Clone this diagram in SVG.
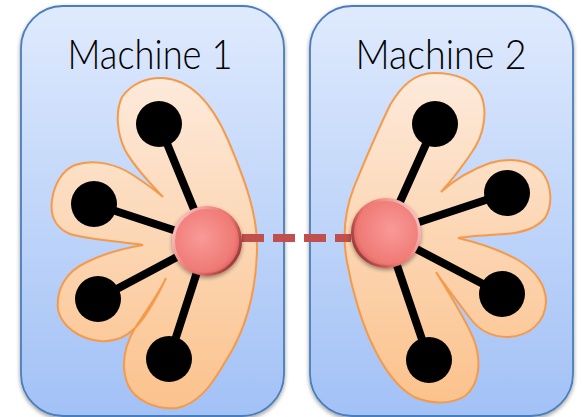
<svg xmlns="http://www.w3.org/2000/svg" width="582" height="417" viewBox="0 0 582 417">
<defs>
<linearGradient id="boxG" x1="0" y1="0" x2="0" y2="1">
<stop offset="0" stop-color="#dfeafd"/>
<stop offset="1" stop-color="#a2c1f6"/>
</linearGradient>
<linearGradient id="blobG" x1="0" y1="0" x2="0" y2="1">
<stop offset="0" stop-color="#fdeadb"/>
<stop offset="1" stop-color="#fbc28c"/>
</linearGradient>
<radialGradient id="hub1G" cx="0.42" cy="0.45" r="0.6">
<stop offset="0" stop-color="#f99a97"/>
<stop offset="0.8" stop-color="#ef7a75"/>
<stop offset="1" stop-color="#d35a56"/>
</radialGradient>
<radialGradient id="hub2G" cx="0.58" cy="0.45" r="0.6">
<stop offset="0" stop-color="#f99a97"/>
<stop offset="0.8" stop-color="#ef7a75"/>
<stop offset="1" stop-color="#d35a56"/>
</radialGradient>
<linearGradient id="rim1" x1="0" y1="0.2" x2="1" y2="0.8">
<stop offset="0" stop-color="#ffffff" stop-opacity="0.55"/>
<stop offset="0.45" stop-color="#ffffff" stop-opacity="0"/>
<stop offset="0.6" stop-color="#8a2e2e" stop-opacity="0"/>
<stop offset="1" stop-color="#7a2626" stop-opacity="0.75"/>
</linearGradient>
<linearGradient id="rim2" x1="1" y1="0.2" x2="0" y2="0.8">
<stop offset="0" stop-color="#ffffff" stop-opacity="0.55"/>
<stop offset="0.45" stop-color="#ffffff" stop-opacity="0"/>
<stop offset="0.6" stop-color="#8a2e2e" stop-opacity="0"/>
<stop offset="1" stop-color="#7a2626" stop-opacity="0.75"/>
</linearGradient>
<filter id="sh" x="-20%" y="-20%" width="140%" height="140%">
<feGaussianBlur in="SourceAlpha" stdDeviation="2"/>
<feOffset dx="0" dy="2" result="b"/>
<feComponentTransfer><feFuncA type="linear" slope="0.4"/></feComponentTransfer>
<feMerge><feMergeNode/><feMergeNode in="SourceGraphic"/></feMerge>
</filter>
</defs>
<style>
.box{fill:url(#boxG);stroke:#4a7ebb;stroke-width:1.8}
.blob{fill:url(#blobG);stroke:#f59a4a;stroke-width:2}
.spoke{stroke:#000;stroke-width:8;stroke-linecap:round}
.leaf{fill:#000}
.label{font-family:Lato,"Liberation Sans",sans-serif;font-size:41px;font-weight:300;fill:#000}
.link{stroke:#c0504d;stroke-width:8;stroke-dasharray:22 9;fill:none}
</style>

<g id="machine1">
<rect class="box" x="21" y="6" width="263" height="410" rx="42" ry="42" filter="url(#sh)"/>
<text class="label" x="150" y="69" text-anchor="middle" textLength="165" lengthAdjust="spacingAndGlyphs">Machine 1</text>
<path class="blob" d="M163,78 C195,80 215,110 228,140 C245,180 258,215 257,250 C256,290 246,330 225,362 C212,385 198,404 177,408 C155,410 135,400 128,385 C120,365 125,345 135,328 C148,308 160,292 166,278 C158,295 148,315 135,328 C125,338 112,342 100,341 C80,339 62,327 58,310 C56,290 65,272 87,262 C105,253 125,248 143,245 C125,242 90,240 70,234 C55,228 50,215 52,200 C54,185 62,170 75,165 C95,158 118,165 133,175 C145,183 155,190 163,197 C150,183 135,168 125,150 C117,133 115,112 122,97 C132,83 148,77 163,78 Z"/>
<line class="spoke" x1="207" y1="241" x2="159" y2="124"/>
<line class="spoke" x1="207" y1="241" x2="94" y2="204"/>
<line class="spoke" x1="207" y1="241" x2="98" y2="299"/>
<line class="spoke" x1="207" y1="241" x2="169" y2="359"/>
<circle class="leaf" cx="159" cy="124" r="23"/>
<circle class="leaf" cx="94" cy="204" r="23"/>
<circle class="leaf" cx="98" cy="299" r="23"/>
<circle class="leaf" cx="169" cy="359" r="23"/>
</g>

<g id="machine2">
<rect class="box" x="310" y="6" width="263" height="410" rx="42" ry="42" filter="url(#sh)"/>
<text class="label" x="441" y="69" text-anchor="middle" textLength="171" lengthAdjust="spacingAndGlyphs">Machine 2</text>
<path class="blob" d="M434,73 C455,73 472,78 481,95 C488,112 484,135 472,152 C462,167 450,182 441,192 C452,182 470,170 490,163 C510,157 530,160 542,172 C552,185 553,205 545,218 C535,230 520,233 505,234 C490,235 470,236 458,238 C475,242 500,250 518,260 C535,270 546,285 546,302 C545,322 530,336 508,337 C490,337 478,329 470,318 C460,305 445,285 436,272 C450,295 465,318 474,340 C482,362 479,385 465,396 C450,405 430,404 414,397 C398,388 385,370 375,350 C362,325 352,290 347,262 C342,235 345,210 354,187 C365,160 378,130 390,105 C402,85 415,73 434,73 Z"/>
<line class="spoke" x1="386" y1="233" x2="435" y2="124"/>
<line class="spoke" x1="386" y1="233" x2="507" y2="193"/>
<line class="spoke" x1="386" y1="233" x2="502" y2="294"/>
<line class="spoke" x1="386" y1="233" x2="429" y2="360"/>
<circle class="leaf" cx="435" cy="124" r="23"/>
<circle class="leaf" cx="507" cy="193" r="23"/>
<circle class="leaf" cx="502" cy="294" r="23"/>
<circle class="leaf" cx="429" cy="360" r="23"/>
</g>

<g id="connectors">
<line class="link" x1="242" y1="238" x2="351" y2="238"/>
</g>

<g id="hub1">
<circle cx="207" cy="241" r="35" fill="url(#hub1G)" filter="url(#sh)"/>
<circle cx="207" cy="241" r="33.5" fill="none" stroke="url(#rim1)" stroke-width="3"/>
</g>
<g id="hub2">
<circle cx="386" cy="233" r="35" fill="url(#hub2G)" filter="url(#sh)"/>
<circle cx="386" cy="233" r="33.5" fill="none" stroke="url(#rim2)" stroke-width="3"/>
</g>
</svg>
